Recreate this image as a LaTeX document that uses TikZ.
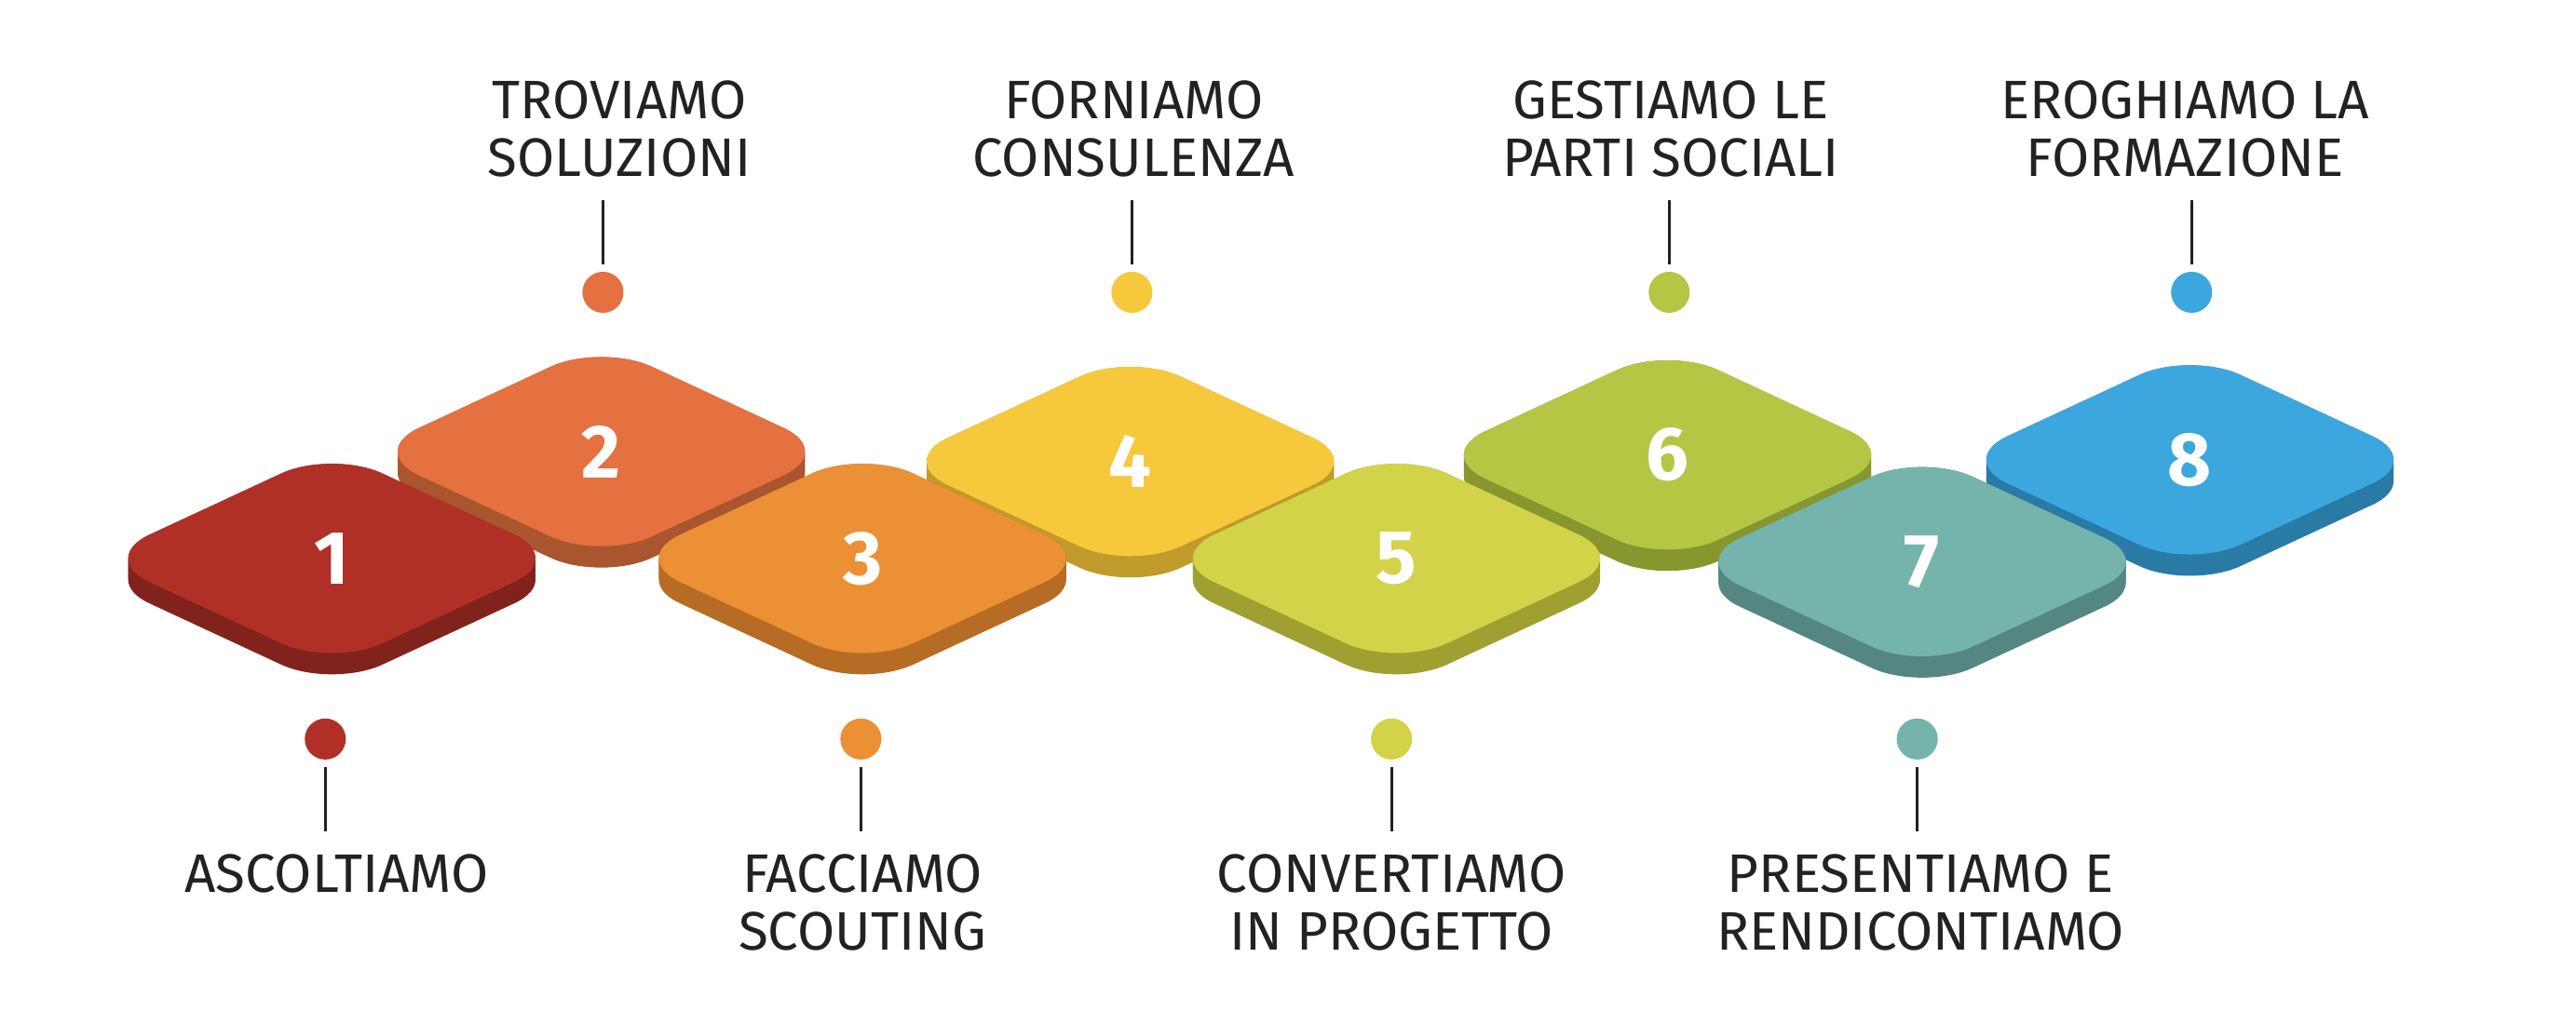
\documentclass[tikz,border=0pt]{standalone}
\usepackage{fontspec}
\setmainfont{Fira Sans}
\usepackage{tikz}

% one step tile: centre x, centre y, top colour, side colour, number
\newcommand{\steptile}[5]{%
  \foreach \dy in {0,1,...,13}
    \fill[#4, rounded corners=17] (#1-142,#2+\dy) -- (#1,#2-66+\dy) -- (#1+142,#2+\dy) -- (#1,#2+66+\dy) -- cycle;
  \fill[#3, rounded corners=17] (#1-142,#2) -- (#1,#2-66) -- (#1+142,#2) -- (#1,#2+66) -- cycle;
  \node[tilenum] (t#5) at (#1,#2) {#5};
}

\definecolor{cA}{HTML}{B03028}\definecolor{sA}{HTML}{82221D}
\definecolor{cB}{HTML}{E57040}\definecolor{sB}{HTML}{A9552F}
\definecolor{cC}{HTML}{EB9035}\definecolor{sC}{HTML}{B66C25}
\definecolor{cD}{HTML}{F6C83C}\definecolor{sD}{HTML}{C09A2A}
\definecolor{cE}{HTML}{D3D34A}\definecolor{sE}{HTML}{A0A032}
\definecolor{cF}{HTML}{B5C645}\definecolor{sF}{HTML}{87962F}
\definecolor{cG}{HTML}{74B4AC}\definecolor{sG}{HTML}{548781}
\definecolor{cH}{HTML}{3CA6DE}\definecolor{sH}{HTML}{2A7AA6}
\definecolor{txt}{HTML}{222222}

\tikzset{
  tilenum/.style={text=white, font=\fontsize{23}{26}\selectfont\bfseries},
  steplabel/.style={text=txt, align=center, inner sep=7pt, font=\fontsize{16.5}{17.5}\selectfont},
  stepdot/.style={circle, inner sep=0pt, minimum size=12.5pt},
  stepline/.style={draw=txt, line width=0.8pt, shorten >=2pt}
}

\begin{document}
\begin{tikzpicture}[x=0.5pt,y=-0.5pt]

\useasboundingbox (0,0) rectangle (1568,624);

% upper tiles first, lower tiles on top
\steptile{366}{275}{cB}{sB}{2}
\steptile{688}{281}{cD}{sD}{4}
\steptile{1015}{277}{cF}{sF}{6}
\steptile{1333}{280}{cH}{sH}{8}
\steptile{202}{340}{cA}{sA}{1}
\steptile{525}{340}{cC}{sC}{3}
\steptile{850}{340}{cE}{sE}{5}
\steptile{1170}{342}{cG}{sG}{7}

% labels above
\node[stepdot, fill=cB] (d2) at (367,178) {};
\node[stepdot, fill=cD] (d4) at (689,178) {};
\node[stepdot, fill=cF] (d6) at (1016,178) {};
\node[stepdot, fill=cH] (d8) at (1334,178) {};
\node[steplabel, anchor=south] (l2) at (377,122) {TROVIAMO\\SOLUZIONI};
\node[steplabel, anchor=south] (l4) at (690,122) {FORNIAMO\\CONSULENZA};
\node[steplabel, anchor=south] (l6) at (1017,122) {GESTIAMO LE\\PARTI SOCIALI};
\node[steplabel, anchor=south] (l8) at (1330,122) {EROGHIAMO LA\\FORMAZIONE};

% labels below
\node[stepdot, fill=cA] (d1) at (198,450) {};
\node[stepdot, fill=cC] (d3) at (524,450) {};
\node[stepdot, fill=cE] (d5) at (847,450) {};
\node[stepdot, fill=cG] (d7) at (1167,450) {};
\node[steplabel, anchor=north] (l1) at (205,506) {ASCOLTIAMO};
\node[steplabel, anchor=north] (l3) at (525,506) {FACCIAMO\\SCOUTING};
\node[steplabel, anchor=north] (l5) at (847,506) {CONVERTIAMO\\IN PROGETTO};
\node[steplabel, anchor=north] (l7) at (1169,506) {PRESENTIAMO E\\RENDICONTIAMO};

\foreach \i in {2,4,6,8}
  \draw[stepline] (l\i.south -| d\i) -- (d\i);
\foreach \i in {1,3,5,7}
  \draw[stepline] (l\i.north -| d\i) -- (d\i);

\end{tikzpicture}
\end{document}
